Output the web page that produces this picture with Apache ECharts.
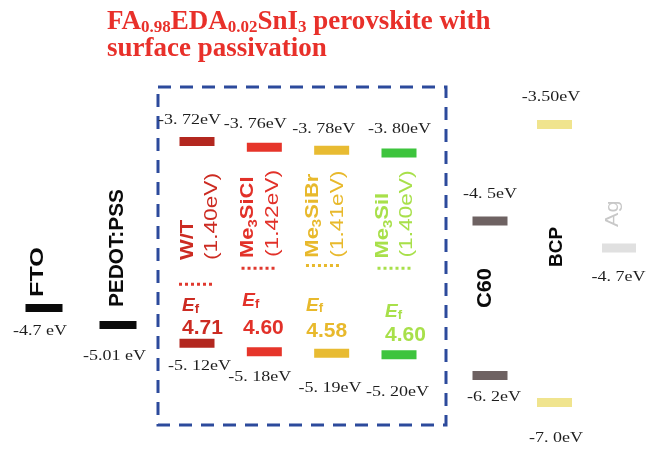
<!DOCTYPE html>
<html><head><meta charset="utf-8">
<script src="https://cdn.jsdelivr.net/npm/echarts@6/dist/echarts.min.js"></script>
<style>html,body{margin:0;padding:0;background:#fff}#c{width:647px;height:449px}</style>
</head><body><div id="c"></div>
<script>
// ---------------- data ----------------
const leftNames = ['FTO', 'PEDOT:PSS'];
const leftLevels = [-4.7, -5.01];
const leftLevelText = ['-4.7 eV', '-5.01 eV'];

const perovNames = ['W/T', 'Me3SiCl', 'Me3SiBr', 'Me3SiI'];
const perovCBM = [-3.72, -3.76, -3.78, -3.80];
const perovVBM = [-5.12, -5.18, -5.19, -5.20];
const perovEf = [-4.71, -4.60, -4.58, -4.60];
const perovGap = ['1.40', '1.42', '1.41', '1.40'];
const perovCBMText = ['-3. 72eV', '-3. 76eV', '-3. 78eV', '-3. 80eV'];
const perovVBMText = ['-5. 12eV', '-5. 18eV', '-5. 19eV', '-5. 20eV'];
const perovEfText = ['4.71', '4.60', '4.58', '4.60'];

const rightNames = ['C60', 'BCP', 'Ag'];
const c60Levels = [-4.5, -6.2];
const c60Text = ['-4. 5eV', '-6. 2eV'];
const bcpLevels = [-3.5, -7.0];
const bcpText = ['-3.50eV', '-7. 0eV'];
const agLevels = [-4.7];
const agText = ['-4. 7eV'];

const titleText = '{m|FA}{s|0.98}{m|EDA}{s|0.02}{m|SnI}{s|3}{m| perovskite with}\n{m|surface passivation}';

// ---------------- styles / layout ----------------
const SANS = '"Liberation Sans", Arial, sans-serif';
const SERIF = '"Liberation Serif", "Times New Roman", serif';
const H = 449;
const perovBar = ['#b3271f', '#e6352a', '#e8bb32', '#3dc43d'];
const perovTextCol = ['#cc2b22', '#e23129', '#e8b92c', '#a8e04a'];
const perovDot = ['#e0382e', '#e0382e', '#e8b92c', '#a8e04a'];
const L = {
  cbm: [[-7.5, -21.5], [-9, -23.3], [-8, -21.1], [0.5, -24]],
  vbm: [[2.5, 22.8], [-4.5, 25.2], [-1.6, 34.7], [-1.5, 37.3]],
  name: [[-8.5, 118.5], [-16, 110.7], [-19, 107.5], [-15.5, 105.5]],
  gap: [[15.5, 118.5], [9, 109.7], [6, 107.5], [8.5, 104.5]],
  dot: [-1, -5.8, -8.7, -4.5],
  ef: [[-15, -37], [-22, -51], [-25.6, -48], [-14, -43]],
  val: [[5.5, -15], [-1, -24], [-5, -22], [6.5, -20]]
};

function axisFit(v0, y0, ppe) { const max = v0 + y0 / ppe; return { min: max - H / ppe, max: max }; }

function bar(p, w, h, fill) {
  return { type: 'rect', shape: { x: p[0] - w / 2, y: p[1] - h / 2, width: w, height: h }, style: { fill: fill } };
}
function serif(x, y, text) {
  return { type: 'text', x: x, y: y, scaleX: 1.2,
    style: { text: text, fill: '#1e1e1e', fontSize: 15, fontFamily: SERIF, align: 'center', verticalAlign: 'middle' } };
}
function richName(t) {
  const m = /^Me(\d)(.*)$/.exec(t);
  return m ? '{a|Me}{b|' + m[1] + '}{a|' + m[2] + '}' : '{a|' + t + '}';
}
function vtext(x, y, text, o) {
  const col = o.color;
  return { type: 'text', x: x, y: y, rotation: Math.PI / 2, scaleX: o.sx || 1,
    style: { text: richName(text), align: 'left', verticalAlign: 'middle', fill: col,
      rich: {
        a: { fontSize: o.size, fontFamily: SANS, fontWeight: o.weight || 'normal', fill: col, color: col, lineHeight: o.size * 1.2 },
        b: { fontSize: o.size * 0.68, fontFamily: SANS, fontWeight: o.weight || 'normal', fill: col, color: col, lineHeight: o.size * 0.7, verticalAlign: 'bottom' }
      } } };
}
function efLabel(x, y, col) {
  return { type: 'text', x: x, y: y,
    style: { text: '{e|E}{f|f}', align: 'left', verticalAlign: 'middle', fill: col,
      rich: {
        e: { fontSize: 19, fontStyle: 'italic', fontWeight: 'bold', fontFamily: SANS, fill: col, color: col, lineHeight: 20 },
        f: { fontSize: 13, fontWeight: 'bold', fontFamily: SANS, fill: col, color: col, lineHeight: 10, verticalAlign: 'bottom' }
      } } };
}
function sans(x, y, text, col, size, weight) {
  return { type: 'text', x: x, y: y,
    style: { text: text, fill: col, fontSize: size, fontWeight: weight || 'normal', fontFamily: SANS, align: 'center', verticalAlign: 'middle' } };
}

const chart = echarts.init(document.getElementById('c'), null, { renderer: 'canvas' });

const hiddenX = (grid, data) => ({ type: 'category', gridIndex: grid, data: data, boundaryGap: false, show: false });
const hiddenY = (grid, fit) => ({ type: 'value', gridIndex: grid, min: fit.min, max: fit.max, show: false, splitLine: { show: false } });

const option = {
  animation: false,
  backgroundColor: '#fff',
  title: {
    left: 107, top: 9, padding: 0, text: titleText,
    textStyle: { rich: {
      m: { fontFamily: SERIF, fontWeight: 'bold', fontSize: 27, color: '#e8302a', lineHeight: 27 },
      s: { fontFamily: SERIF, fontWeight: 'bold', fontSize: 17, color: '#e8302a', lineHeight: 12, verticalAlign: 'bottom' }
    } }
  },
  graphic: [{
    type: 'rect', shape: { x: 158, y: 87, width: 288, height: 338 },
    style: { fill: 'none', stroke: '#2c4a9c', lineWidth: 3, lineDash: [13, 9] }
  }],
  grid: [
    { left: 44, right: 529, top: 0, bottom: 0 },
    { left: 197, right: 248, top: 0, bottom: 0 },
    { left: 490, right: 28, top: 0, bottom: 0 }
  ],
  xAxis: [hiddenX(0, leftNames), hiddenX(1, perovNames), hiddenX(2, rightNames)],
  yAxis: [
    hiddenY(0, axisFit(-4.7, 308, 54.84)),
    hiddenY(1, axisFit(-3.72, 141.5, 144.07)),
    hiddenY(2, axisFit(-4.5, 221, 90.9)),
    hiddenY(2, axisFit(-3.5, 124.5, 79.43)),
    hiddenY(2, axisFit(-4.7, 248, 79.43))
  ],
  series: [
    {
      type: 'custom', xAxisIndex: 0, yAxisIndex: 0,
      data: leftLevels.map((v, i) => [i, v]),
      renderItem: (params, api) => {
        const i = params.dataIndex;
        const p = api.coord([i, api.value(1)]);
        const lab = [[-4, 23], [-3.5, 31]][i];
        const nm = [[-5.5, -11], [-0.5, -18]][i];
        return { type: 'group', children: [
          bar(p, 37, 8, '#0a0a0a'),
          serif(p[0] + lab[0], p[1] + lab[1], leftLevelText[i]),
          vtext(p[0] + nm[0], p[1] + nm[1], leftNames[i], { size: [18, 20][i], sx: [1.4, 1.04][i], color: '#0a0a0a', weight: 'bold' })
        ] };
      }
    },
    {
      type: 'custom', xAxisIndex: 1, yAxisIndex: 1,
      data: perovCBM.map((v, i) => [i, v, perovVBM[i], perovEf[i]]),
      encode: { x: 0, y: [1, 2, 3] },
      renderItem: (params, api) => {
        const i = params.dataIndex;
        const c = api.coord([i, api.value(1)]);
        const v = api.coord([i, api.value(2)]);
        const e = api.coord([i, api.value(3)]);
        const col = perovTextCol[i];
        const dx = L.dot[i];
        return { type: 'group', children: [
          bar(c, 35, 9, perovBar[i]),
          bar(v, 35, 9, perovBar[i]),
          serif(c[0] + L.cbm[i][0], c[1] + L.cbm[i][1], perovCBMText[i]),
          serif(v[0] + L.vbm[i][0], v[1] + L.vbm[i][1], perovVBMText[i]),
          { type: 'line', shape: { x1: e[0] + dx - 17, y1: e[1], x2: e[0] + dx + 17, y2: e[1] },
            style: { stroke: perovDot[i], lineWidth: 3, lineDash: [3, 3] } },
          vtext(c[0] + L.name[i][0], c[1] + L.name[i][1], perovNames[i], { size: 18, sx: 1.22, color: col, weight: 'bold' }),
          vtext(c[0] + L.gap[i][0], c[1] + L.gap[i][1], '(' + perovGap[i] + 'eV)', { size: 18, sx: 1.26, color: col }),
          efLabel(v[0] + L.ef[i][0], v[1] + L.ef[i][1], col),
          sans(v[0] + L.val[i][0], v[1] + L.val[i][1], perovEfText[i], col, 21, 'bold')
        ] };
      }
    },
    {
      type: 'custom', xAxisIndex: 2, yAxisIndex: 2,
      data: [[0, c60Levels[0], c60Levels[1]]],
      encode: { x: 0, y: [1, 2] },
      renderItem: (params, api) => {
        const a = api.coord([0, api.value(1)]);
        const b = api.coord([0, api.value(2)]);
        return { type: 'group', children: [
          bar(a, 35, 9, '#6e6262'), bar(b, 35, 9, '#6e6262'),
          serif(a[0], a[1] - 27, c60Text[0]),
          serif(b[0] + 4, b[1] + 21.5, c60Text[1]),
          vtext(a[0] - 4.5, a[1] + 87, rightNames[0], { size: 20, sx: 1.09, color: '#0a0a0a', weight: 'bold' })
        ] };
      }
    },
    {
      type: 'custom', xAxisIndex: 2, yAxisIndex: 3,
      data: [[1, bcpLevels[0], bcpLevels[1]]],
      encode: { x: 0, y: [1, 2] },
      renderItem: (params, api) => {
        const a = api.coord([1, api.value(1)]);
        const b = api.coord([1, api.value(2)]);
        return { type: 'group', children: [
          bar(a, 35, 9, '#f0e48e'), bar(b, 35, 9, '#f0e48e'),
          serif(a[0] - 3.5, a[1] - 27.5, bcpText[0]),
          serif(b[0] + 1.5, b[1] + 35.5, bcpText[1]),
          vtext(a[0] + 2.5, a[1] + 142.5, rightNames[1], { size: 19, sx: 1.0, color: '#0a0a0a', weight: 'bold' })
        ] };
      }
    },
    {
      type: 'custom', xAxisIndex: 2, yAxisIndex: 4,
      data: [[2, agLevels[0]]],
      renderItem: (params, api) => {
        const a = api.coord([2, api.value(1)]);
        return { type: 'group', children: [
          bar(a, 34, 9, '#e0e0e0'),
          serif(a[0] - 0.5, a[1] + 29, agText[0]),
          vtext(a[0] - 6, a[1] - 21, rightNames[2], { size: 18, sx: 1.2, color: '#c8c8c8' })
        ] };
      }
    }
  ]
};
chart.setOption(option);
</script>
</body></html>
